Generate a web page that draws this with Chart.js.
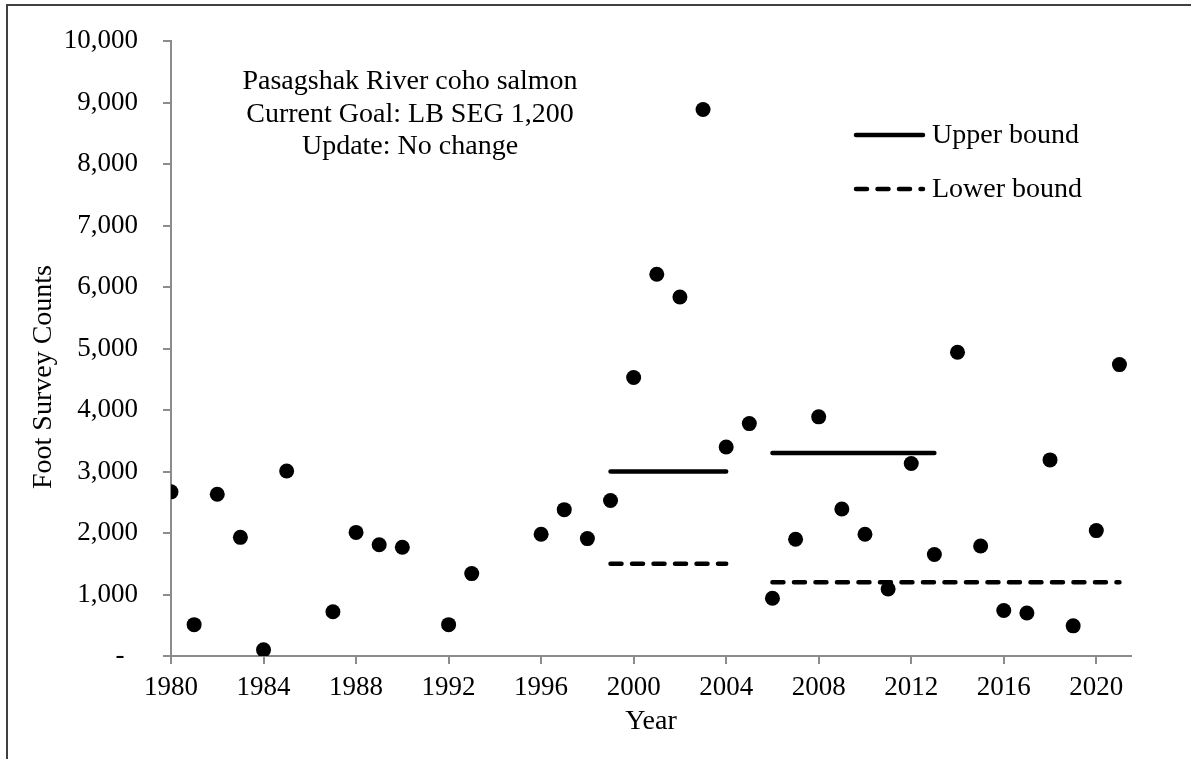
<!DOCTYPE html>
<html>
<head>
<meta charset="utf-8">
<script src="https://cdn.jsdelivr.net/npm/chart.js@4/dist/chart.umd.min.js"></script>
<style>
  html, body { margin: 0; padding: 0; background: #fff; }
  #wrap { width: 1191px; height: 759px; }
</style>
</head>
<body>
<div id="wrap"><canvas id="coho" width="1191" height="759"></canvas></div>
<script>
// Pasagshak River coho salmon foot survey counts
const years = [1980, 1981, 1982, 1983, 1984, 1985, 1987, 1988, 1989, 1990,
  1992, 1993, 1996, 1997, 1998, 1999, 2000, 2001, 2002, 2003, 2004, 2005,
  2006, 2007, 2008, 2009, 2010, 2011, 2012, 2013, 2014, 2015, 2016, 2017,
  2018, 2019, 2020, 2021];
const counts = [2670, 510, 2630, 1930, 100, 3010, 720, 2010, 1810, 1770,
  510, 1340, 1980, 2380, 1910, 2530, 4530, 6210, 5840, 8890, 3400, 3780,
  940, 1900, 3890, 2390, 1980, 1090, 3130, 1650, 4940, 1790, 740, 700,
  3190, 490, 2040, 4740];

// escapement goal ranges (start year, end year, value)
const upperStart = [1999, 2006];
const upperEnd = [2004, 2013];
const upperGoal = [3000, 3300];
const lowerStart = [1999, 2006];
const lowerEnd = [2004, 2021];
const lowerGoal = [1500, 1200];

const yTicks = [0, 1000, 2000, 3000, 4000, 5000, 6000, 7000, 8000, 9000, 10000];
const noteLines = ['Pasagshak River coho salmon', 'Current Goal: LB SEG 1,200', 'Update: No change'];

const FONT = 'Liberation Serif, Times New Roman, serif';
const AXIS_GREY = '#8c8c8c';
const DASH = [11, 10.5];

// turn start/end/value lists into one line with gaps between segments
function segments(starts, ends, vals) {
  const pts = [];
  starts.forEach((s, i) => {
    if (i > 0) pts.push({ x: s - 0.5, y: null });
    pts.push({ x: s, y: vals[i] });
    pts.push({ x: ends[i], y: vals[i] });
  });
  return pts;
}

Chart.defaults.font.family = FONT;
Chart.defaults.font.size = 27;
Chart.defaults.color = '#000';

const extras = {
  id: 'extras',
  afterDraw(chart) {
    const c = chart.ctx;
    c.save();
    // outer frame
    c.strokeStyle = '#404040';
    c.lineWidth = 2;
    c.strokeRect(7, 5, 1300, 900);

    c.fillStyle = '#000';
    c.font = '28px ' + FONT;

    // y axis title
    c.save();
    c.translate(44, 377);
    c.rotate(-Math.PI / 2);
    c.textAlign = 'center';
    c.textBaseline = 'middle';
    c.fillText('Foot Survey Counts', 0, 0);
    c.restore();

    // note block
    c.textAlign = 'center';
    c.textBaseline = 'alphabetic';
    noteLines.forEach((t, i) => c.fillText(t, 410, 89 + i * 32.5));

    // legend
    const items = [
      { label: 'Upper bound', dash: [], y: 135 },
      { label: 'Lower bound', dash: DASH, y: 189 }
    ];
    items.forEach(it => {
      c.beginPath();
      c.lineWidth = 4.5;
      c.lineCap = 'round';
      c.strokeStyle = '#000';
      c.setLineDash(it.dash);
      c.moveTo(856, it.y);
      c.lineTo(923, it.y);
      c.stroke();
      c.setLineDash([]);
      c.textAlign = 'left';
      c.textBaseline = 'middle';
      c.fillText(it.label, 932, it.y + 1);
    });
    c.restore();
  }
};

new Chart(document.getElementById('coho'), {
  type: 'scatter',
  data: {
    datasets: [
      {
        label: 'Counts',
        data: years.map((y, i) => ({ x: y, y: counts[i] })),
        backgroundColor: '#000',
        borderWidth: 0,
        pointRadius: 7.5,
        pointHoverRadius: 7.5
      },
      {
        label: 'Upper bound',
        type: 'line',
        data: segments(upperStart, upperEnd, upperGoal),
        borderColor: '#000',
        borderWidth: 4.5,
        borderCapStyle: 'round',
        pointRadius: 0,
        spanGaps: false
      },
      {
        label: 'Lower bound',
        type: 'line',
        data: segments(lowerStart, lowerEnd, lowerGoal),
        borderColor: '#000',
        borderWidth: 4.5,
        borderDash: DASH,
        borderCapStyle: 'round',
        pointRadius: 0,
        spanGaps: false
      }
    ]
  },
  options: {
    responsive: false,
    animation: false,
    layout: { padding: { left: 0, top: 38, right: 60, bottom: 0 } },
    plugins: {
      legend: { display: false },
      tooltip: { enabled: false }
    },
    scales: {
      x: {
        type: 'linear',
        min: 1980,
        max: 2021.5,
        afterFit(scale) { scale.height = 103; },
        ticks: {
          stepSize: 4,
          includeBounds: false,
          padding: 8,
          maxRotation: 0,
          callback: v => String(v)
        },
        grid: { drawOnChartArea: false, drawTicks: true, tickLength: 8, color: AXIS_GREY, lineWidth: 2 },
        border: { color: AXIS_GREY, width: 2 },
        title: { display: true, text: 'Year', font: { size: 28 }, padding: { top: 0, bottom: 21 } }
      },
      y: {
        min: 0,
        max: 10000,
        afterFit(scale) { scale.width = 171; },
        afterBuildTicks(scale) { scale.ticks = yTicks.map(v => ({ value: v })); },
        ticks: {
          padding: 25,
          callback: v => v === 0 ? '-  ' : v.toLocaleString('en-US')
        },
        grid: { drawOnChartArea: false, drawTicks: true, tickLength: 8, color: AXIS_GREY, lineWidth: 2 },
        border: { color: AXIS_GREY, width: 2 }
      }
    }
  },
  plugins: [extras]
});
</script>
</body>
</html>
